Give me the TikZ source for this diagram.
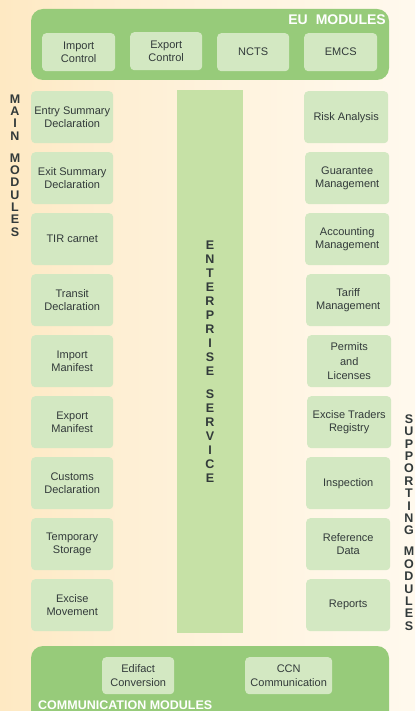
\documentclass[tikz,border=0pt]{standalone}
\usepackage{fontspec}
\setmainfont{Liberation Sans}
\definecolor{groupgreen}{RGB}{151,203,122}
\definecolor{modfill}{RGB}{211,232,194}
\definecolor{esbfill}{RGB}{198,225,166}
\definecolor{inktext}{RGB}{50,58,58}
\definecolor{bgA}{RGB}{253,223,166}
\definecolor{bgB}{RGB}{254,239,212}
\definecolor{bgC}{RGB}{255,248,235}
\definecolor{bgD}{RGB}{255,253,249}
\pgfdeclarehorizontalshading{paper}{100bp}{color(0bp)=(bgA); color(40bp)=(bgB); color(70bp)=(bgC); color(100bp)=(bgD)}
\tikzset{
  modbox/.style={fill=modfill, rounded corners=4pt, inner sep=0pt, align=center,
    text=inktext, font=\fontsize{11}{13.3}\selectfont, anchor=north west},
  leftmod/.style={modbox, minimum width=82pt, minimum height=52pt},
  rightmod/.style={modbox, minimum width=84pt, minimum height=52pt},
  grouplabel/.style={text=white, font=\bfseries\fontsize{14}{16}\selectfont, inner sep=0pt},
  vertlabel/.style={text=inktext, align=center, inner sep=0pt}
}
\begin{document}
\begin{tikzpicture}[x=1pt,y=-1pt]
\useasboundingbox (0,0) rectangle (415,711);
% paper background
\shade[shading=paper] (0,0) rectangle (415,711);

% EU modules group
\fill[groupgreen, rounded corners=12pt] (31,9) rectangle (389,80);
\node[grouplabel, anchor=base east] (eulabel) at (386,25) {EU\hspace{0.3em} MODULES};
\node[modbox, minimum width=73pt, minimum height=38pt] (impc) at (42,33) {Import\\Control};
\node[modbox, minimum width=72pt, minimum height=38pt] (expc) at (130,32) {Export\\Control};
\node[modbox, minimum width=72pt, minimum height=38pt] (ncts) at (217,33) {NCTS};
\node[modbox, minimum width=73pt, minimum height=38pt] (emcs) at (304,33) {EMCS};

% enterprise service bus
\fill[esbfill] (177,90) rectangle (243,633);
\node[vertlabel, font=\bfseries\fontsize{12.5}{14}\selectfont] (esb) at (210,361.5)
  {E\\N\\T\\E\\R\\P\\R\\I\\S\\E\\[9pt]S\\E\\R\\V\\I\\C\\E};

% main modules
\node[vertlabel, font=\bfseries\fontsize{12.5}{12.3}\selectfont] (mainlbl) at (15,165.5)
  {M\\A\\I\\N\\[9.7pt]M\\O\\D\\U\\L\\E\\S};
\node[leftmod] (esd)  at (31,91)  {Entry Summary\\Declaration};
\node[leftmod] (exsd) at (31,152) {Exit Summary\\Declaration};
\node[leftmod] (tir)  at (31,213) {TIR carnet};
\node[leftmod] (trd)  at (31,274) {Transit\\Declaration};
\node[leftmod] (imf)  at (31,335) {Import\\Manifest};
\node[leftmod] (emf)  at (31,396) {Export\\Manifest};
\node[leftmod] (cud)  at (31,457) {Customs\\Declaration};
\node[leftmod] (tms)  at (31,518) {Temporary\\Storage};
\node[leftmod] (exm)  at (31,579) {Excise\\Movement};

% supporting modules
\node[vertlabel, font=\bfseries\fontsize{12.5}{12.4}\selectfont] (suplbl) at (409,522.5)
  {S\\U\\P\\P\\O\\R\\T\\I\\N\\G\\[8.6pt]M\\O\\D\\U\\L\\E\\S};
\node[rightmod] (risk) at (304,91)  {Risk Analysis};
\node[rightmod] (guar) at (305,152) {Guarantee\\Management};
\node[rightmod] (acc)  at (305,213) {Accounting\\Management};
\node[rightmod] (tar)  at (306,274) {Tariff\\Management};
\node[rightmod, font=\fontsize{11}{14.5}\selectfont] (perm) at (307,335) {Permits\\and\\Licenses};
\node[rightmod] (etr)  at (307,396) {Excise Traders\\Registry};
\node[rightmod] (insp) at (306,457) {Inspection};
\node[rightmod] (ref)  at (306,518) {Reference\\Data};
\node[rightmod] (rep)  at (306,579) {Reports};

% communication modules group
\begin{scope}
  \clip (0,0) rectangle (415,711);
  \fill[groupgreen, rounded corners=12pt] (31,646) rectangle (389,735);
\end{scope}
\node[modbox, minimum width=72pt, minimum height=37pt] (edi) at (102,657) {Edifact\\Conversion};
\node[modbox, minimum width=87pt, minimum height=37pt] (ccn) at (245,657) {CCN\\Communication};
\node[grouplabel, anchor=base west, font=\bfseries\fontsize{12.5}{14}\selectfont] (comlabel) at (38,709.5) {COMMUNICATION MODULES};
\end{tikzpicture}
\end{document}
